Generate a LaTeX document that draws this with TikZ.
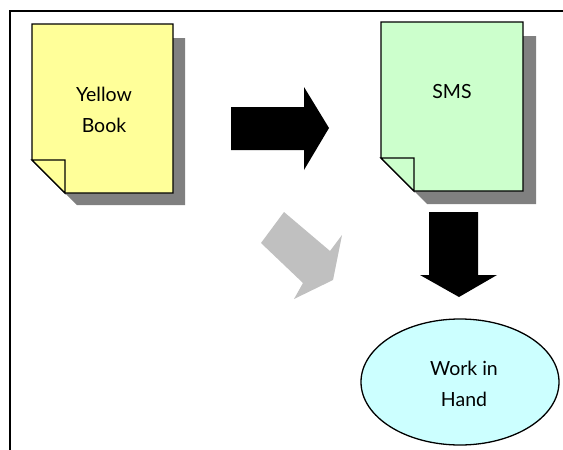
\documentclass[tikz,border=0pt]{standalone}
\usepackage{fontspec}
\setmainfont{Lato}
\usetikzlibrary{shapes.geometric}
\definecolor{docyellow}{HTML}{FFFF99}
\definecolor{docgreen}{HTML}{CCFFCC}
\definecolor{cyanfill}{HTML}{CCFFFF}
\definecolor{shadowgray}{HTML}{808080}
\definecolor{arrowgray}{HTML}{C0C0C0}
\tikzset{
  docshape/.style={draw=black, line width=1.3pt, line join=miter},
  docshadow/.style={fill=shadowgray, draw=none},
  fold/.style={draw=black, line width=1.3pt},
  label/.style={font=\fontsize{19.5}{31}\selectfont, align=center, text=black},
  bigarrow/.style={fill=black, draw=none},
  grayarrow/.style={fill=arrowgray, draw=none},
}
\begin{document}
\begin{tikzpicture}[x=1pt, y=-1pt]
\useasboundingbox (0,0) rectangle (563,450);
\fill[white] (0,0) rectangle (563,450);
% frame
\draw[line width=2pt] (563,11) -- (10,11) -- (10,450);

% Yellow Book document
\fill[docshadow] (44,38) -- (185,38) -- (185,205) -- (77,205) -- (44,172) -- cycle;
\draw[docshape, fill=docyellow] (32,24) -- (173,24) -- (173,193) -- (65,193) -- (32,160) -- cycle;
\draw[fold, fill=docyellow] (32,160) -- (65,160) -- (65,193) -- cycle;
\node[label] (yb) at (104,110) {Yellow\\Book};

% SMS document
\fill[docshadow] (394,36) -- (536,36) -- (536,204) -- (427,204) -- (394,171) -- cycle;
\draw[docshape, fill=docgreen] (381,22) -- (523,22) -- (523,191) -- (414,191) -- (381,158) -- cycle;
\draw[fold, fill=docgreen] (381,158) -- (414,158) -- (414,191) -- cycle;
\node[label] (sms) at (452,92) {SMS};

% Work in Hand ellipse
\node[ellipse, draw=black, line width=1.3pt, fill=cyanfill, minimum width=198pt, minimum height=126pt, inner sep=0pt] (wih) at (460,382) {};
\node[label] at (464,384) {Work in\\Hand};

% black right arrow
\fill[bigarrow] (231,107) -- (304,107) -- (304,87) -- (329,128) -- (304,170) -- (304,150) -- (231,150) -- cycle;

% gray diagonal arrow
\fill[grayarrow] (261,243) -- (284,212) -- (330,251) -- (342,235) -- (333,280) -- (294,299) -- (303,283) -- cycle;

% black down arrow
\fill[bigarrow] (429,212) -- (478,212) -- (478,275) -- (497,275) -- (459,297) -- (420,275) -- (429,275) -- cycle;
\end{tikzpicture}
\end{document}
